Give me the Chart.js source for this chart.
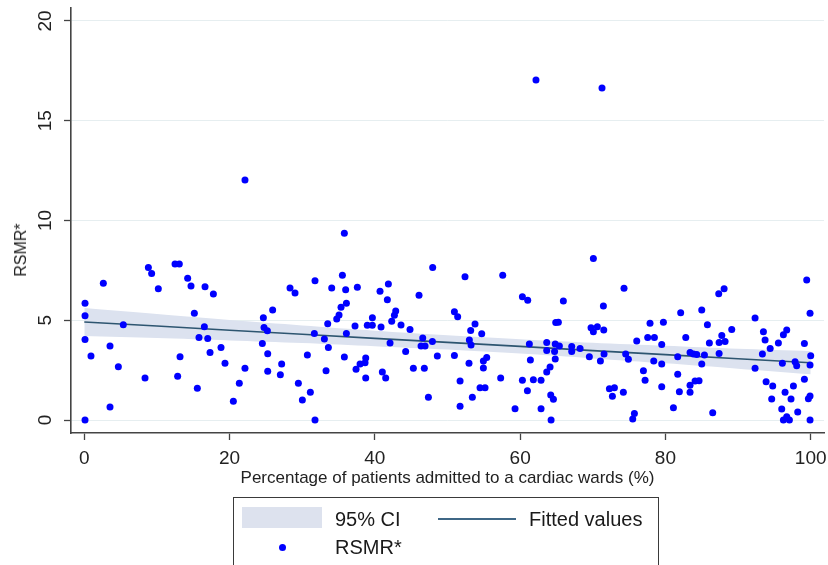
<!DOCTYPE html>
<html>
<head>
<meta charset="utf-8">
<script src="https://cdn.jsdelivr.net/npm/chart.js@4.4.0/dist/chart.umd.min.js"></script>
<style>
html,body{margin:0;padding:0;background:#fff;}
#wrap{position:relative;width:828px;height:565px;overflow:hidden;font-family:'Liberation Sans',Arial,sans-serif;color:#1a1a1a;}
#c{position:absolute;left:0;top:0;}
.abs{position:absolute;}
.lt{position:absolute;font-size:20px;line-height:24px;white-space:nowrap;color:#1a1a1a;}
#ytitle{position:absolute;left:21px;top:250px;font-size:16px;line-height:18px;color:#222;white-space:nowrap;transform:translate(-50%,-50%) rotate(-90deg);}
</style>
</head>
<body>
<div id="wrap">
<canvas id="c" width="828" height="565"></canvas>
<div id="ytitle">RSMR*</div>
<div class="abs" style="left:233px;top:497px;width:426px;height:90px;border:1.3px solid #3a3a3a;box-sizing:border-box;"></div>
<div class="abs" style="left:242px;top:507px;width:80px;height:21px;background:#dde2ee;"></div>
<div class="lt" style="left:335px;top:507px;">95% CI</div>
<div class="abs" style="left:438px;top:518px;width:78px;height:2px;background:#3f6786;"></div>
<div class="lt" style="left:529px;top:507px;">Fitted values</div>
<div class="abs" style="left:278.5px;top:543.5px;width:7px;height:7px;border-radius:50%;background:#0000ff;"></div>
<div class="lt" style="left:335px;top:535px;">RSMR*</div>
</div>
<script>
// Percentage of patients admitted to a cardiac ward (x) and RSMR* (y)
const pct = [
0.1,0.1,0.1,0.1,0.92,2.62,3.54,3.54,4.69,5.37,8.36,8.82,9.27,10.19,12.49,13.08,12.85,13.18,14.23,14.69,15.15,15.79,15.56,
16.62,17.77,16.53,16.99,17.31,18.82,19.37,20.52,21.34,22.12,22.12,24.65,24.74,25.20,25.93,24.51,25.25,25.25,27.17,26.99,28.32,29.01,29.47,30.02,30.71,31.12,31.76,31.67,31.76,
35.80,35.53,34.06,35.98,37.59,35.34,36.08,35.07,34.75,33.51,36.08,33.05,33.60,33.28,35.80,37.27,38.96,39.65,39.66,40.85,40.71,41.86,41.72,42.87,42.69,42.32,43.60,44.84,42.09,38.74,38.65,37.96,37.41,38.74,41.03,41.49,44.24,45.30,46.08,46.59,46.36,46.91,46.81,47.37,47.96,47.92,48.60,
52.41,57.60,50.95,51.40,53.79,53.19,54.71,53.01,53.24,50.95,52.96,55.40,54.94,54.94,51.73,51.73,53.42,54.48,55.17,57.32,60.31,61.04,61.27,61.41,60.31,61.00,61.82,62.88,59.30,62.88,63.66,63.66,64.12,63.66,64.21,64.58,64.26,64.90,65.26,64.83,64.74,64.83,
65.40,65.95,67.10,67.10,68.25,69.53,70.08,69.76,70.08,70.63,71.51,71.46,71.55,71.05,74.30,72.29,72.98,72.70,74.21,74.53,74.90,75.73,75.50,76.05,76.97,77.20,77.56,78.48,77.88,79.49,78.39,79.49,79.72,79.49,81.10,81.69,81.69,82.10,81.92,
85.00,85.78,82.80,83.39,83.85,84.31,85.37,85.00,83.39,83.39,84.08,84.63,86.51,86.05,87.34,88.08,87.76,87.39,88.21,89.13,87.39,92.34,93.49,93.72,94.42,93.35,92.34,93.86,94.77,94.63,95.55,96.24,96.70,96.10,96.47,97.29,97.62,96.01,96.24,96.70,97.07,98.21,97.85,98.07,99.13,99.45,99.91,100.0,99.91,99.13,99.68,99.91,99.91,
62.18,71.27
];
const rsmr = [
5.85,5.23,4.04,0.0,3.21,6.85,3.71,0.65,2.67,4.78,2.11,7.65,7.35,6.58,7.82,7.82,2.19,3.17,7.10,6.72,5.35,4.14,1.59,
6.68,6.32,4.68,4.08,3.39,3.64,2.84,0.94,1.84,2.59,12.03,5.13,4.64,4.48,5.51,3.84,3.32,2.44,2.81,2.27,6.62,6.37,1.84,1.00,3.26,1.39,6.98,4.34,0.0,
9.36,7.25,6.62,6.53,6.65,5.65,5.85,5.26,5.06,4.83,4.34,4.06,3.64,2.47,3.16,4.71,4.75,4.75,5.13,4.66,6.45,6.82,6.03,5.46,5.25,4.95,4.76,4.54,3.86,3.11,2.87,2.81,2.54,2.11,2.41,2.11,3.44,2.59,6.25,4.11,3.71,3.71,2.59,1.14,7.64,3.94,3.21,
7.18,7.25,5.43,5.18,4.81,4.49,4.33,4.01,3.76,3.24,2.84,3.14,2.96,2.61,1.95,0.69,1.14,1.62,1.62,2.11,6.18,6.00,3.81,3.01,1.99,1.47,2.02,1.99,0.57,0.57,3.88,3.48,2.66,2.41,1.25,1.04,0.0,4.89,4.90,3.81,3.43,3.06,
3.71,5.96,3.68,3.43,3.59,3.17,8.10,4.63,4.43,4.68,4.51,5.71,3.31,2.96,6.60,1.57,1.62,1.19,1.39,3.31,3.04,0.33,0.05,3.96,2.47,1.99,4.14,4.14,4.85,3.79,2.96,2.81,4.90,1.67,0.62,3.17,2.29,5.38,1.42,
5.51,4.78,4.14,3.38,3.31,3.29,3.26,2.81,1.74,1.39,1.95,1.97,0.37,3.86,6.33,6.58,4.24,3.88,3.93,4.54,3.34,5.11,4.43,4.01,3.59,3.31,2.59,1.92,1.70,1.05,3.86,4.28,4.51,2.84,1.39,1.05,1.70,0.55,0.0,0.17,0.0,0.40,2.92,2.72,3.83,7.02,5.35,3.22,2.76,2.04,1.07,1.20,0.0,
17.04,16.64
];
// Fitted line and 95% CI
const fitX   = [0, 10, 20, 30, 40, 50, 60, 70, 80, 90, 100];
const fitY   = [4.91, 4.71, 4.50, 4.30, 4.09, 3.89, 3.69, 3.48, 3.28, 3.07, 2.87];
const ciHigh = [5.61, 5.31, 5.01, 4.74, 4.48, 4.25, 4.05, 3.87, 3.72, 3.57, 3.45];
const ciLow  = [4.21, 4.11, 3.99, 3.86, 3.70, 3.53, 3.33, 3.09, 2.84, 2.57, 2.29];
const xTicks = [0, 20, 40, 60, 80, 100];
const yTicks = [0, 5, 10, 15, 20];

const FONT = "'Liberation Sans', Arial, sans-serif";
const toXY = (xs, ys) => xs.map((x, i) => ({x: x, y: ys[i]}));

new Chart(document.getElementById('c'), {
  type: 'scatter',
  data: {
    datasets: [
      {label: 'RSMR*', data: toXY(pct, rsmr), pointRadius: 3.5, pointHoverRadius: 3.5,
       pointBackgroundColor: '#0000ff', pointBorderWidth: 0, showLine: false},
      {label: 'Fitted values', type: 'line', data: toXY(fitX, fitY), borderColor: '#2d5570',
       borderWidth: 1.6, pointRadius: 0, fill: false, tension: 0},
      {label: '95% CI', type: 'line', data: toXY(fitX, ciHigh), borderWidth: 0, pointRadius: 0,
       backgroundColor: '#dce2ef', borderColor: 'rgba(0,0,0,0)', fill: '+1', tension: 0.3},
      {label: 'CI low', type: 'line', data: toXY(fitX, ciLow), borderWidth: 0, pointRadius: 0,
       borderColor: 'rgba(0,0,0,0)', fill: false, tension: 0.3}
    ]
  },
  options: {
    responsive: false, animation: false, devicePixelRatio: 1,
    layout: {padding: {left: 5, right: 4, top: 8, bottom: 70}},
    plugins: {legend: {display: false}, tooltip: {enabled: false}},
    scales: {
      x: {
        type: 'linear', min: -1.83, max: 101.83,
        afterBuildTicks: s => { s.ticks = xTicks.map(v => ({value: v})); },
        afterFit: s => { s.height = 62; s.paddingLeft = 0; s.paddingRight = 0; },
        grid: {drawOnChartArea: false, drawTicks: true, tickLength: 7, tickColor: '#444', tickWidth: 1.3},
        border: {display: true, color: '#444', width: 1.6},
        ticks: {font: {family: FONT, size: 19}, color: '#222', padding: 7, maxRotation: 0, autoSkip: false},
        title: {display: true, text: 'Percentage of patients admitted to a cardiac wards (%)',
                font: {family: FONT, size: 17}, color: '#222', padding: {top: 0, bottom: 6.8}}
      },
      y: {
        type: 'linear', min: -0.65, max: 20.65,
        afterBuildTicks: s => { s.ticks = yTicks.map(v => ({value: v})); },
        afterFit: s => { s.width = 66; s.paddingTop = 0; s.paddingBottom = 0; },
        grid: {color: '#e6eef0', lineWidth: 1, drawTicks: true, tickLength: 7, tickColor: '#444', tickWidth: 1.3},
        border: {display: true, color: '#444', width: 1.6},
        ticks: {font: {family: FONT, size: 19}, color: '#222', minRotation: 90, maxRotation: 90,
                crossAlign: 'center', padding: 7.5, autoSkip: false},
        title: {display: false}
      }
    }
  }
});
</script>
</body>
</html>
